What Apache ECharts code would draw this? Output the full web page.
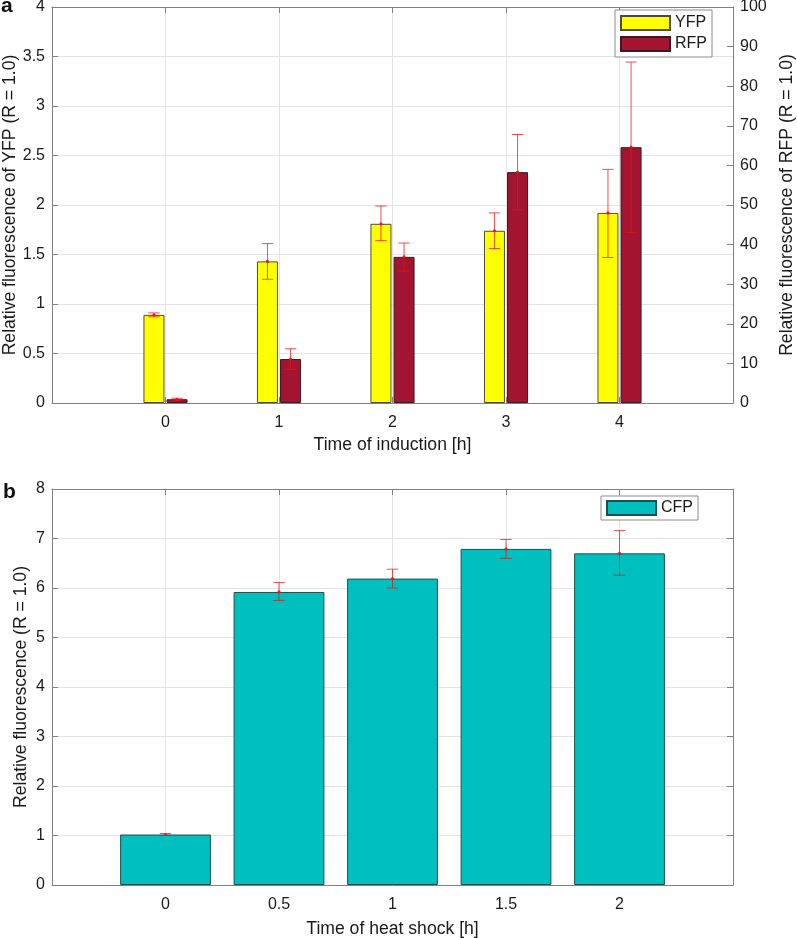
<!DOCTYPE html>
<html>
<head>
<meta charset="utf-8">
<script src="https://cdn.jsdelivr.net/npm/echarts@6/dist/echarts.min.js"></script>
<style>
html,body{margin:0;padding:0;background:#fff;}
#chart{width:797px;height:938px;}
</style>
</head>
<body>
<div id="chart"></div>
<script>
// ---- Data (panel a) ----
const timeInduction = ['0', '1', '2', '3', '4'];
const yfpMean = [0.89, 1.43, 1.81, 1.74, 1.92];
const yfpLow  = [0.87, 1.25, 1.64, 1.56, 1.47];
const yfpHigh = [0.91, 1.61, 1.99, 1.92, 2.36];
const rfpMean = [0.95, 11.1, 36.9, 58.3, 64.6];
const rfpLow  = [0.7, 8.5, 33.3, 48.8, 43.1];
const rfpHigh = [1.2, 13.7, 40.4, 67.8, 86.1];
// ---- Data (panel b) ----
const timeHeat = ['0', '0.5', '1', '1.5', '2'];
const cfpMean = [1.02, 5.92, 6.19, 6.79, 6.70];
const cfpLow  = [1.00, 5.75, 6.00, 6.60, 6.26];
const cfpHigh = [1.04, 6.11, 6.38, 6.98, 7.16];

const FONT = "'Liberation Sans', Arial, Helvetica, sans-serif";
const AX = '#808080';
const TXT = '#1a1a1a';
const GRIDC = '#e3e3e3';

const groupBarW = 0.185;   // fraction of category band
const groupGap = 0.1;      // fraction of bar width
const groupOff = (groupBarW + groupBarW * groupGap) / 2;
const capW = 0.1;

function xAxisMain(grid, cats, name, gap) {
  return {
    gridIndex: grid, type: 'value', min: -1, max: 5, interval: 1, position: 'bottom',
    axisLine: {show: true, onZero: false, lineStyle: {color: AX, width: 1}},
    axisTick: {show: true, inside: true, length: 6, lineStyle: {color: AX}},
    axisLabel: {
      formatter: v => (v >= 0 && v < cats.length) ? cats[v] : '',
      fontSize: 16, color: TXT, fontFamily: FONT, margin: 12
    },
    splitLine: {show: true, lineStyle: {color: GRIDC, width: 1}},
    name: name, nameLocation: 'middle', nameGap: gap, nameMoveOverlap: false,
    nameTextStyle: {fontSize: 17.6, color: TXT, fontFamily: FONT}
  };
}
function xAxisMirror(grid) {
  return {
    gridIndex: grid, type: 'value', min: -1, max: 5, interval: 1, position: 'top',
    axisLine: {show: true, onZero: false, lineStyle: {color: AX, width: 1}},
    axisTick: {show: true, inside: true, length: 6, lineStyle: {color: AX}},
    axisLabel: {show: false}, splitLine: {show: false}
  };
}
function yAxis(grid, pos, min, max, interval, labels, split, name, gap) {
  const a = {
    gridIndex: grid, type: 'value', position: pos, min: min, max: max, interval: interval,
    axisLine: {show: true, onZero: false, lineStyle: {color: AX, width: 1}},
    axisTick: {show: true, inside: true, length: 6, lineStyle: {color: AX}},
    axisLabel: {show: labels, fontSize: 16, color: TXT, fontFamily: FONT, margin: 7},
    splitLine: {show: split, lineStyle: {color: GRIDC, width: 1}}
  };
  if (name) {
    a.name = name; a.nameLocation = 'middle'; a.nameGap = gap; a.nameRotate = 90;
    a.nameMoveOverlap = false;
    a.nameTextStyle = {fontSize: 17.6, color: TXT, fontFamily: FONT};
  }
  return a;
}

function errSeries(name, xIdx, yIdx, means, lows, highs, xOff) {
  return {
    type: 'custom', name: name + ' err', xAxisIndex: xIdx, yAxisIndex: yIdx, z: 10,
    silent: true,
    data: means.map((m, i) => [i, m, lows[i], highs[i]]),
    encode: {x: 0, y: [2, 3]},
    renderItem: function (params, api) {
      const x = api.value(0) + xOff;
      const pm = api.coord([x, api.value(1)]);
      const pl = api.coord([x, api.value(2)]);
      const ph = api.coord([x, api.value(3)]);
      const hw = api.size([capW, 0])[0] / 2;
      const st = {stroke: 'rgba(235,20,20,0.75)', lineWidth: 1, fill: null};
      return {
        type: 'group',
        children: [
          {type: 'line', shape: {x1: pl[0], y1: pl[1], x2: ph[0], y2: ph[1]}, style: st},
          {type: 'line', shape: {x1: pl[0] - hw, y1: pl[1], x2: pl[0] + hw, y2: pl[1]}, style: st},
          {type: 'line', shape: {x1: ph[0] - hw, y1: ph[1], x2: ph[0] + hw, y2: ph[1]}, style: st},
          {type: 'circle', shape: {cx: pm[0], cy: pm[1], r: 1.6}, style: {fill: 'rgba(235,20,20,0.9)'}}
        ]
      };
    }
  };
}

const option = {
  animation: false,
  backgroundColor: '#ffffff',
  textStyle: {fontFamily: FONT},
  grid: [
    {left: 52, right: 64, top: 7, height: 396, containLabel: false, outerBoundsMode: 'none'},
    {left: 52, right: 64, top: 489, height: 396, containLabel: false, outerBoundsMode: 'none'}
  ],
  xAxis: [
    xAxisMain(0, timeInduction, 'Time of induction [h]', 33),
    xAxisMirror(0),
    xAxisMain(1, timeHeat, 'Time of heat shock [h]', 35),
    xAxisMirror(1)
  ],
  yAxis: [
    yAxis(0, 'left', 0, 4, 0.5, true, true, 'Relative fluorescence of YFP (R = 1.0)', 33),
    yAxis(0, 'right', 0, 100, 10, true, false, 'Relative fluorescence of RFP (R = 1.0)', 45),
    yAxis(1, 'left', 0, 8, 1, true, true, 'Relative fluorescence (R = 1.0)', 22),
    yAxis(1, 'right', 0, 8, 1, false, false)
  ],
  legend: [
    {
      data: ['YFP', 'RFP'], orient: 'vertical', top: 10, right: 85,
      itemWidth: 49, itemHeight: 14, itemGap: 5, padding: [5, 5, 5, 5],
      borderColor: '#8c8c8c', borderWidth: 1, backgroundColor: '#fff',
      textStyle: {fontSize: 16, color: TXT, fontFamily: FONT}, icon: 'rect'
    },
    {
      data: ['CFP'], orient: 'vertical', top: 496, right: 99,
      itemWidth: 49, itemHeight: 14, itemGap: 5, padding: [4, 5, 4, 5],
      borderColor: '#8c8c8c', borderWidth: 1, backgroundColor: '#fff',
      textStyle: {fontSize: 16, color: TXT, fontFamily: FONT}, icon: 'rect'
    }
  ],
  graphic: [
    {type: 'text', left: 1, top: -4, style: {text: 'a', font: 'bold 21px ' + FONT, fill: '#111'}},
    {type: 'text', left: 3, top: 482, style: {text: 'b', font: 'bold 21px ' + FONT, fill: '#111'}}
  ],
  series: [
    {
      type: 'bar', name: 'YFP', xAxisIndex: 0, yAxisIndex: 0,
      barWidth: (groupBarW * 100) + '%', barGap: (groupGap * 100) + '%',
      data: yfpMean.map((v, i) => [i, v]),
      itemStyle: {color: '#ffff00', borderColor: '#4d4d33', borderWidth: 1}
    },
    {
      type: 'bar', name: 'RFP', xAxisIndex: 0, yAxisIndex: 1,
      barWidth: (groupBarW * 100) + '%', barGap: (groupGap * 100) + '%',
      data: rfpMean.map((v, i) => [i, v]),
      itemStyle: {color: '#a2142f', borderColor: '#3a1a20', borderWidth: 1}
    },
    errSeries('YFP', 0, 0, yfpMean, yfpLow, yfpHigh, -groupOff),
    errSeries('RFP', 0, 1, rfpMean, rfpLow, rfpHigh, groupOff),
    {
      type: 'bar', name: 'CFP', xAxisIndex: 2, yAxisIndex: 2,
      barWidth: '80%',
      data: cfpMean.map((v, i) => [i, v]),
      itemStyle: {color: '#00bfbf', borderColor: '#1f4f4f', borderWidth: 1}
    },
    errSeries('CFP', 2, 2, cfpMean, cfpLow, cfpHigh, 0)
  ]
};

const chart = echarts.init(document.getElementById('chart'), null, {renderer: 'canvas'});
chart.setOption(option);
</script>
</body>
</html>
